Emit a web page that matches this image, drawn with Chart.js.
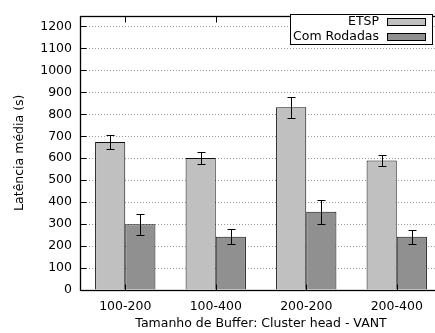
<!DOCTYPE html>
<html>
<head>
<meta charset="utf-8">
<script src="https://cdn.jsdelivr.net/npm/chart.js@4/dist/chart.umd.min.js"></script>
<style>
  html, body { margin: 0; padding: 0; background: #fff; }
  #wrap { width: 435px; height: 333px; overflow: hidden; position: relative; }
  canvas { display: block; }
</style>
</head>
<body>
<div id="wrap"><canvas id="c" width="443" height="333"></canvas></div>
<script>
// Buffer size combinations (cluster head - VANT)
const categories = ['100-200', '100-400', '200-200', '200-400'];

// Mean latency (s) and error half-widths per scheme
const etspMeans = [674, 601, 832, 590];
const etspErrors = [30, 27, 47, 26];
const rodadasMeans = [299, 243, 356, 243];
const rodadasErrors = [48, 33, 54, 32];

const seriesLabels = ['ETSP', 'Com Rodadas'];
const yTickValues = [0, 100, 200, 300, 400, 500, 600, 700, 800, 900, 1000, 1100, 1200];

const FONT = 'DejaVu Sans';
const FONT_SIZE = 12.5;

// Error bars drawn through the chart's own scales
const errorBars = {
  id: 'errorBars',
  afterDatasetsDraw(chart) {
    const ctx = chart.ctx;
    const y = chart.scales.y;
    ctx.save();
    ctx.strokeStyle = '#000';
    ctx.lineWidth = 1;
    chart.data.datasets.forEach((ds, di) => {
      const meta = chart.getDatasetMeta(di);
      meta.data.forEach((bar, i) => {
        const v = ds.data[i], e = ds.errors[i];
        const x = Math.round(bar.x) + 0.5;
        const yHi = Math.round(y.getPixelForValue(v + e)) + 0.5;
        const yLo = Math.round(y.getPixelForValue(v - e)) + 0.5;
        ctx.beginPath();
        ctx.moveTo(x, yHi); ctx.lineTo(x, yLo);
        ctx.moveTo(x - 4, yHi); ctx.lineTo(x + 4, yHi);
        ctx.moveTo(x - 4, yLo); ctx.lineTo(x + 4, yLo);
        ctx.stroke();
      });
    });
    ctx.restore();
  }
};

// Plot frame with inward tick marks
const frame = {
  id: 'frame',
  afterDatasetsDraw(chart) {
    const ctx = chart.ctx;
    const a = chart.chartArea;
    const xs = chart.scales.x, ys = chart.scales.y;
    const L = Math.round(a.left) + 0.5, R = Math.round(a.right) - 0.5;
    const T = Math.round(a.top) + 0.5, B = Math.round(a.bottom) + 0.5;
    ctx.save();
    ctx.strokeStyle = '#000';
    ctx.lineWidth = 1;
    ctx.beginPath();
    yTickValues.forEach(v => {
      const py = Math.round(ys.getPixelForValue(v)) + 0.5;
      ctx.moveTo(L, py); ctx.lineTo(L + 6, py);
      ctx.moveTo(R, py); ctx.lineTo(R - 6, py);
    });
    categories.forEach((c, i) => {
      const px = Math.round(xs.getPixelForValue(i)) + 0.5;
      ctx.moveTo(px, T); ctx.lineTo(px, T + 6);
      ctx.moveTo(px, B); ctx.lineTo(px, B - 6);
    });
    ctx.stroke();
    ctx.lineWidth = 1.3;
    ctx.strokeRect(L, T, R - L, B - T);
    ctx.restore();
  }
};

// Key box in the top-right corner, text right-aligned before each swatch
const keyBox = {
  id: 'keyBox',
  afterDraw(chart) {
    const ctx = chart.ctx;
    const bx = 290.5, by = 14.5, bw = 142, bh = 30;
    ctx.save();
    ctx.fillStyle = '#fff';
    ctx.fillRect(bx, by, bw, bh);
    ctx.strokeStyle = '#000';
    ctx.lineWidth = 1;
    ctx.strokeRect(bx, by, bw, bh);
    ctx.font = FONT_SIZE + 'px "' + FONT + '"';
    ctx.textAlign = 'right';
    ctx.textBaseline = 'middle';
    chart.data.datasets.forEach((ds, i) => {
      const cy = 22 + i * 15;
      ctx.fillStyle = '#000';
      ctx.fillText(ds.label, 379, cy);
      ctx.fillStyle = ds.backgroundColor;
      ctx.fillRect(387.5, cy - 3.5, 38, 7);
      ctx.strokeStyle = '#000';
      ctx.strokeRect(387.5, cy - 3.5, 38, 7);
    });
    ctx.restore();
  }
};

new Chart(document.getElementById('c'), {
  type: 'bar',
  data: {
    labels: categories,
    datasets: [
      { label: seriesLabels[0], data: etspMeans, errors: etspErrors,
        backgroundColor: '#c0c0c0', borderColor: '#111', borderWidth: 1 },
      { label: seriesLabels[1], data: rodadasMeans, errors: rodadasErrors,
        backgroundColor: '#909090', borderColor: '#111', borderWidth: 1 }
    ]
  },
  options: {
    responsive: false,
    animation: false,
    devicePixelRatio: 1,
    layout: { padding: { top: 8, right: 1, left: 0, bottom: 0 } },
    datasets: { bar: { categoryPercentage: 2 / 3, barPercentage: 1.0 } },
    plugins: {
      legend: { display: false },
      tooltip: { enabled: false }
    },
    scales: {
      x: {
        grid: { display: false, drawTicks: false },
        border: { display: false },
        ticks: { color: '#000', padding: 9, font: { family: FONT, size: FONT_SIZE } },
        title: {
          display: true, text: 'Tamanho de Buffer: Cluster head - VANT',
          color: '#000', font: { family: FONT, size: FONT_SIZE }, padding: { top: 0, bottom: 2 }
        },
        afterFit(s) { s.height = 43; }
      },
      y: {
        min: 0, max: 1250,
        afterBuildTicks(s) { s.ticks = yTickValues.map(v => ({ value: v })); },
        grid: {
          color: '#999', lineWidth: 1, drawTicks: false,
          borderDash: [1, 2]
        },
        border: { display: false, dash: [1, 2] },
        ticks: {
          color: '#000', padding: 8, font: { family: FONT, size: FONT_SIZE },
          callback: v => String(v)
        },
        title: {
          display: true, text: 'Latência média (s)',
          color: '#000', font: { family: FONT, size: FONT_SIZE }, padding: { top: 12, bottom: 0 }
        },
        afterFit(s) { s.width = 80; }
      }
    }
  },
  plugins: [errorBars, frame, keyBox]
});
</script>
</body>
</html>
